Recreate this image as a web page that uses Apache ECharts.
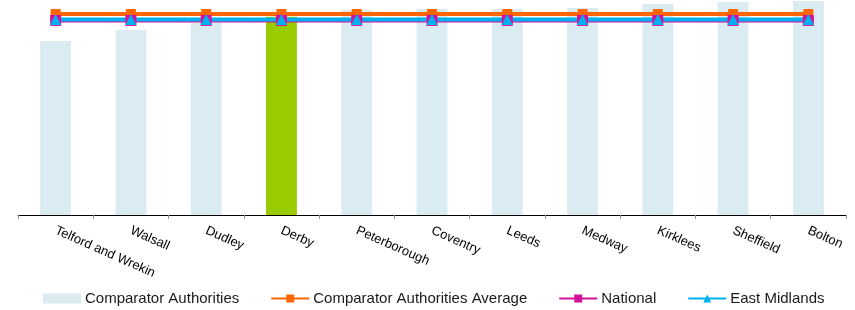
<!DOCTYPE html>
<html>
<head>
<meta charset="utf-8">
<script src="https://cdn.jsdelivr.net/npm/echarts@6/dist/echarts.min.js"></script>
<style>
  html, body { margin: 0; padding: 0; background: #fff; }
  #chart { width: 855px; height: 310px; }
</style>
</head>
<body>
<div id="chart"></div>
<script>
// categories and values (y axis hidden, 0-100 scale)
const categories = ['Telford and Wrekin', 'Walsall', 'Dudley', 'Derby', 'Peterborough',
  'Coventry', 'Leeds', 'Medway', 'Kirklees', 'Sheffield', 'Bolton'];
const comparatorValues = [80.9, 86.0, 89.4, 92.2, 95.3, 95.8, 95.8, 96.3, 98.1, 99.1, 99.5];
const averageValues = [93.5, 93.5, 93.5, 93.5, 93.5, 93.5, 93.5, 93.5, 93.5, 93.5, 93.5];
const nationalValues = [90.5, 90.5, 90.5, 90.5, 90.5, 90.5, 90.5, 90.5, 90.5, 90.5, 90.5];
const eastMidlandsValues = [90.9, 90.9, 90.9, 90.9, 90.9, 90.9, 90.9, 90.9, 90.9, 90.9, 90.9];
const highlight = 'Derby';

const chart = echarts.init(document.getElementById('chart'));

// bar data, the highlighted authority in green
const barData = comparatorValues.map((v, i) => {
  if (categories[i] === highlight) {
    return { value: v, itemStyle: { color: '#99CC00' } };
  }
  return v;
});

const option = {
  animation: false,
  textStyle: { fontFamily: 'Liberation Sans, Arial, sans-serif' },
  grid: { left: 18, right: 9, top: 0, bottom: 95 },
  legend: {
    left: 43,
    top: 291,
    padding: 0,
    itemGap: 31,
    itemWidth: 38,
    itemHeight: 10,
    textStyle: { fontSize: 15, color: '#1a1a1a', padding: [0, 0, 0, -1] },
    data: [
      { name: 'Comparator Authorities', icon: 'rect', itemStyle: { color: '#DAEBF2' } },
      'Comparator Authorities Average',
      'National',
      'East Midlands'
    ]
  },
  xAxis: {
    type: 'category',
    data: categories,
    axisLine: { lineStyle: { color: '#000', width: 1 } },
    axisTick: { show: true, length: 4, lineStyle: { color: '#999' } },
    axisLabel: { rotate: -24, fontSize: 13, color: '#000', margin: 15, interval: 0 }
  },
  yAxis: {
    type: 'value',
    min: 0,
    max: 100,
    show: false,
    splitLine: { show: false }
  },
  series: [
    {
      name: 'Comparator Authorities',
      type: 'bar',
      data: barData,
      barWidth: '41%',
      itemStyle: { color: '#DAEBF2' }
    },
    {
      name: 'Comparator Authorities Average',
      type: 'line',
      data: averageValues,
      symbol: 'rect',
      symbolSize: 10,
      lineStyle: { color: '#FF6600', width: 4 },
      itemStyle: { color: '#FF6600' }
    },
    {
      name: 'National',
      type: 'line',
      data: nationalValues,
      symbol: 'rect',
      symbolSize: 11,
      lineStyle: { color: '#D4119D', width: 4 },
      itemStyle: { color: '#D4119D' }
    },
    {
      name: 'East Midlands',
      type: 'line',
      data: eastMidlandsValues,
      symbol: 'triangle',
      symbolSize: 11,
      lineStyle: { color: '#00B0F0', width: 4 },
      itemStyle: { color: '#00B0F0' }
    }
  ]
};

chart.setOption(option);
</script>
</body>
</html>
